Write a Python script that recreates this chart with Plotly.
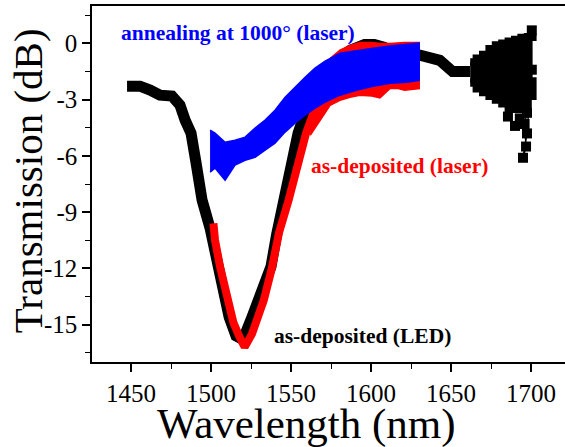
import plotly.graph_objects as go

FONT = "Liberation Serif"

# ---- as-deposited (LED): black trace (centre line) ----
led_wl = [1447.5, 1455.6, 1461.9, 1468.1, 1475.6, 1480.6, 1483.8, 1487.5, 1490.5, 1494.4,
          1499.4, 1504.4, 1508.0, 1511.3, 1515.6, 1520.0, 1525.6, 1531.0, 1537.5, 1541.0,
          1545.0, 1550.0, 1554.4, 1560.0, 1566.0, 1574.4, 1586.9, 1596.0, 1602.0, 1608.0,
          1615.0, 1630.6, 1643.0, 1651.0, 1661.9]
led_db = [-2.28, -2.28, -2.49, -2.76, -2.81, -3.29, -4.09, -4.79, -6.30, -8.36,
          -9.86, -11.9, -13.3, -14.6, -15.6, -15.8, -14.6, -13.2, -11.9, -10.2,
          -8.36, -6.5, -4.79, -3.4, -2.3, -1.16, -0.36, -0.05, -0.05, -0.2,
          -0.46, -0.62, -0.9, -1.5, -1.5]

# noisy tail of the LED trace (envelope of the dense block)
led_tail_wl = [1662, 1666, 1670, 1674, 1678, 1682, 1686, 1690, 1694, 1698, 1701]
led_tail_hi = [-1.0, -0.8, -0.6, -0.3, -0.1, 0.0, 0.1, 0.2, 0.3, 0.35, 0.5]
led_tail_lo = [-2.1, -2.4, -2.6, -2.8, -3.0, -3.2, -3.5, -3.4, -3.5, -2.8, -1.8]

# individual scattered points at the tail
led_pts_wl = [1700.5, 1685.6, 1690.0, 1693.0, 1697.5, 1696.0, 1696.9, 1695.0, 1697.5, 1700.5, 1699.4]
led_pts_db = [0.7, -3.9, -4.4, -4.0, -3.7, -4.3, -5.5, -6.1, -4.8, -1.4, -2.3]

# ---- as-deposited (laser): red trace ----
red_wl = [1501.5, 1502.5, 1505.6, 1510.0, 1514.0, 1517.5, 1521.0, 1525.6, 1529.0, 1533.0,
          1538.0, 1542.5, 1548.5, 1554.0, 1559.4, 1566.9]
red_db = [-9.6, -10.5, -11.9, -13.7, -14.9, -15.6, -16.2, -15.5, -14.7, -13.7,
          -12.0, -10.1, -8.36, -6.4, -4.79, -3.03]

red_band_wl = [1562.0, 1568.0, 1574.4, 1580.6, 1586.9, 1593.0, 1600.6, 1605.6, 1611.9, 1617.0, 1621.0, 1630.6]
red_band_hi = [-2.6, -1.5, -0.8, -0.35, -0.1, 0.05, 0.05, 0.0, 0.0, 0.05, 0.05, 0.05]
red_band_lo = [-4.9, -4.1, -3.3, -3.03, -2.87, -2.76, -2.8, -2.9, -2.4, -2.4, -2.5, -2.4]

# ---- annealing at 1000° (laser): blue trace (envelope of dense oscillation) ----
blue_wl = [1499.4, 1502.5, 1508.8, 1515.0, 1521.3, 1527.5, 1533.8, 1540.0, 1546.3, 1552.5,
           1558.8, 1565.0, 1571.3, 1580.6, 1591.3, 1601.3, 1611.9, 1622.5, 1630.6]
blue_hi = [-4.63, -4.79, -5.27, -5.16, -5.0, -4.52, -4.09, -3.56, -2.87, -2.33,
           -1.8, -1.32, -0.94, -0.52, -0.36, -0.25, -0.14, -0.04, 0.02]
blue_lo = [-6.87, -6.65, -7.3, -6.49, -6.23, -6.07, -5.69, -5.32, -4.73, -4.25,
           -3.83, -3.45, -3.13, -2.76, -2.49, -2.28, -2.12, -2.07, -1.96]

x_ticks = [1450, 1500, 1550, 1600, 1650, 1700]
y_ticks = [0, -3, -6, -9, -12, -15]

BLACK, RED, BLUE = "#000000", "#ff0000", "#0000ff"

fig = go.Figure()

# black LED curve
fig.add_trace(go.Scatter(x=led_wl, y=led_db, mode="lines",
                         line=dict(color=BLACK, width=11), hoverinfo="skip"))
fig.add_trace(go.Scatter(x=led_tail_wl, y=led_tail_lo, mode="lines",
                         line=dict(color=BLACK, width=8, shape="hv"), hoverinfo="skip"))
fig.add_trace(go.Scatter(x=led_tail_wl, y=led_tail_hi, mode="lines", fill="tonexty",
                         fillcolor=BLACK, line=dict(color=BLACK, width=8, shape="hv"),
                         hoverinfo="skip"))
fig.add_trace(go.Scatter(x=led_pts_wl, y=led_pts_db, mode="markers+lines",
                         marker=dict(symbol="square", size=10, color=BLACK),
                         line=dict(color=BLACK, width=1.5), hoverinfo="skip"))

# red laser curve
fig.add_trace(go.Scatter(x=red_wl, y=red_db, mode="lines",
                         line=dict(color=RED, width=8), hoverinfo="skip"))
fig.add_trace(go.Scatter(x=red_band_wl, y=red_band_lo, mode="lines",
                         line=dict(color=RED, width=1.5), hoverinfo="skip"))
fig.add_trace(go.Scatter(x=red_band_wl, y=red_band_hi, mode="lines", fill="tonexty",
                         fillcolor=RED, line=dict(color=RED, width=1.5), hoverinfo="skip"))

# blue annealed curve
fig.add_trace(go.Scatter(x=blue_wl, y=blue_lo, mode="lines",
                         line=dict(color=BLUE, width=1.5), hoverinfo="skip"))
fig.add_trace(go.Scatter(x=blue_wl, y=blue_hi, mode="lines", fill="tonexty",
                         fillcolor=BLUE, line=dict(color=BLUE, width=1.5), hoverinfo="skip"))

lab_font = dict(family=FONT, size=21.5, weight="bold")
fig.add_annotation(x=1442.5, y=0.55, text="annealing at 1000° (laser)", showarrow=False,
                   xanchor="left", yanchor="middle", font=dict(color=BLUE, **lab_font))
fig.add_annotation(x=1561.3, y=-6.55, text="as-deposited (laser)", showarrow=False,
                   xanchor="left", yanchor="middle", font=dict(color=RED, **lab_font))
fig.add_annotation(x=1538.1, y=-15.62, text="as-deposited (LED)", showarrow=False,
                   xanchor="left", yanchor="middle", font=dict(color=BLACK, **lab_font))

# axis titles
fig.add_annotation(xref="paper", yref="paper", x=0.4545, y=-0.175, text="Wavelength (nm)",
                   showarrow=False, xanchor="center", yanchor="middle",
                   font=dict(family=FONT, size=43, color=BLACK))
fig.add_annotation(xref="paper", yref="paper", x=-0.135, y=0.508, text="Transmission (dB)",
                   showarrow=False, xanchor="center", yanchor="middle", textangle=-90,
                   font=dict(family=FONT, size=41, color=BLACK))

fig.update_layout(
    width=565, height=447,
    margin=dict(l=92, r=0, t=6, b=85, autoexpand=False),
    paper_bgcolor="white", plot_bgcolor="white",
    showlegend=False,
    font=dict(family=FONT, color=BLACK),
)
fig.update_xaxes(
    range=[1425.6, 1721.25], tickvals=x_ticks, ticktext=[str(v) for v in x_ticks],
    showgrid=False, zeroline=False, showline=True, linecolor=BLACK, linewidth=1.5,
    mirror=True, ticks="outside", ticklen=8, tickwidth=1.5, tickcolor=BLACK,
    tickfont=dict(family=FONT, size=25, color=BLACK), automargin=False,
    minor=dict(dtick=25, tick0=1425, ticks="outside", ticklen=5, tickwidth=1.2, tickcolor=BLACK, showgrid=False),
)
fig.update_yaxes(
    range=[-17, 2], tickvals=y_ticks, ticktext=[str(v) for v in y_ticks],
    showgrid=False, zeroline=False, showline=True, linecolor=BLACK, linewidth=1.5,
    mirror=False, ticks="outside", ticklen=8, tickwidth=1.5, tickcolor=BLACK,
    tickfont=dict(family=FONT, size=25, color=BLACK), automargin=False,
    minor=dict(dtick=1.5, tick0=0, ticks="outside", ticklen=5, tickwidth=1.2, tickcolor=BLACK, showgrid=False),
)

fig.write_html(
    "out.html",
    config={"displayModeBar": False},
    post_script="document.body.style.margin='0';document.body.style.overflow='hidden';",
)
